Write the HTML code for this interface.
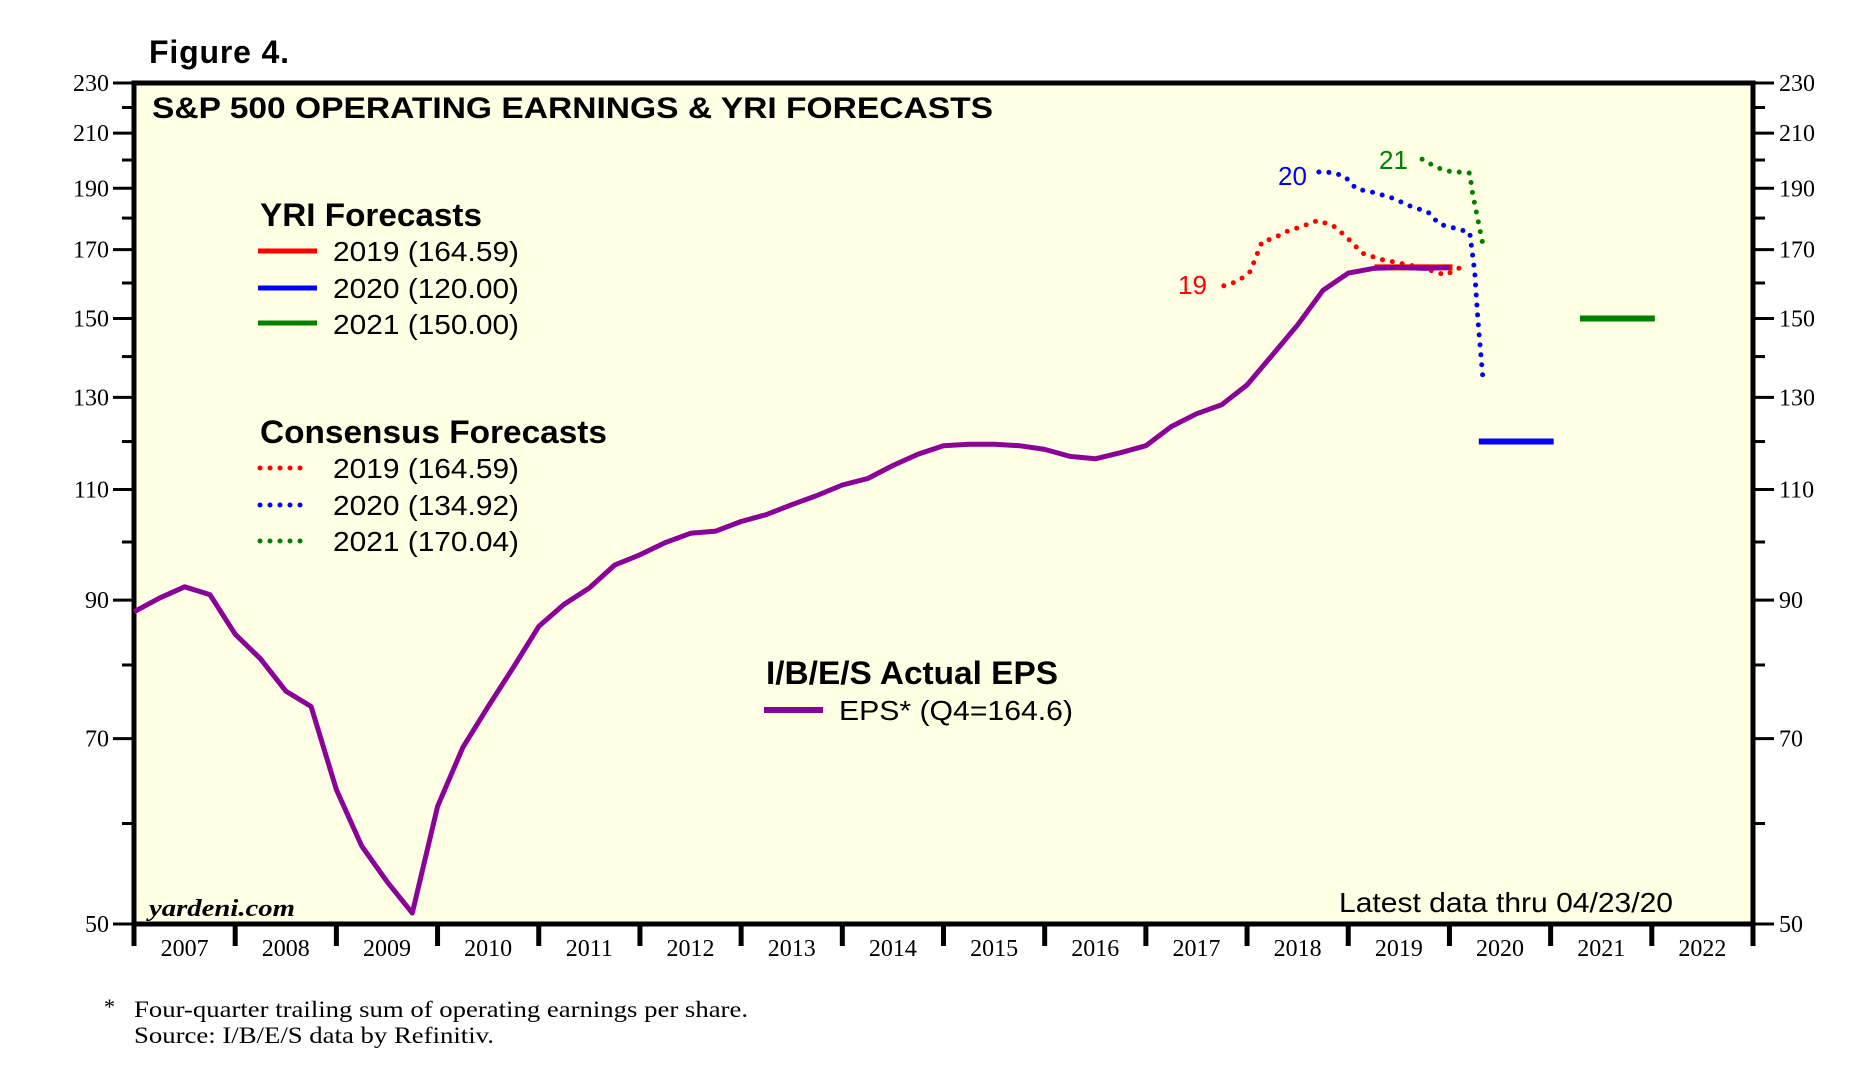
<!DOCTYPE html>
<html><head><meta charset="utf-8"><style>
html,body{margin:0;padding:0;background:#fff;}
svg{display:block;}
</style></head><body>
<svg id="chart" width="1854" height="1077" viewBox="0 0 1854 1077" xmlns="http://www.w3.org/2000/svg">
<text x="149" y="63" font-family="Liberation Sans, sans-serif" font-weight="bold" font-size="32" textLength="140">Figure 4.</text>
<rect x="134" y="83" width="1619" height="841" fill="#FFFFE3" stroke="#000" stroke-width="5"/>
<g id="axes"></g>
<g id="series"></g>
<text x="152" y="118" font-family="Liberation Sans, sans-serif" font-weight="bold" font-size="30" textLength="841" lengthAdjust="spacingAndGlyphs">S&amp;P 500 OPERATING EARNINGS &amp; YRI FORECASTS</text>

<g font-family="Liberation Sans, sans-serif">
<text x="260" y="226" font-weight="bold" font-size="32" textLength="222" lengthAdjust="spacingAndGlyphs">YRI Forecasts</text>
<line x1="258" y1="251" x2="317" y2="251" stroke="#ff0000" stroke-width="5"/>
<text x="333" y="261" font-size="28" textLength="186" lengthAdjust="spacingAndGlyphs">2019 (164.59)</text>
<line x1="258" y1="288" x2="317" y2="288" stroke="#0000ff" stroke-width="5"/>
<text x="333" y="298" font-size="28" textLength="186" lengthAdjust="spacingAndGlyphs">2020 (120.00)</text>
<line x1="258" y1="323" x2="317" y2="323" stroke="#008000" stroke-width="5"/>
<text x="333" y="334" font-size="28" textLength="186" lengthAdjust="spacingAndGlyphs">2021 (150.00)</text>

<text x="260" y="443" font-weight="bold" font-size="32" textLength="347" lengthAdjust="spacingAndGlyphs">Consensus Forecasts</text>
<line x1="260" y1="468" x2="305" y2="468" stroke="#ff0000" stroke-width="5" stroke-linecap="round" stroke-dasharray="0 10"/>
<text x="333" y="478" font-size="28" textLength="186" lengthAdjust="spacingAndGlyphs">2019 (164.59)</text>
<line x1="260" y1="505" x2="305" y2="505" stroke="#0000ff" stroke-width="5" stroke-linecap="round" stroke-dasharray="0 10"/>
<text x="333" y="515" font-size="28" textLength="186" lengthAdjust="spacingAndGlyphs">2020 (134.92)</text>
<line x1="260" y1="541" x2="305" y2="541" stroke="#008000" stroke-width="5" stroke-linecap="round" stroke-dasharray="0 10"/>
<text x="333" y="551" font-size="28" textLength="186" lengthAdjust="spacingAndGlyphs">2021 (170.04)</text>

<text x="766" y="684" font-weight="bold" font-size="32" textLength="292" lengthAdjust="spacingAndGlyphs">I/B/E/S Actual EPS</text>
<line x1="764" y1="710" x2="823" y2="710" stroke="#8B0099" stroke-width="6"/>
<text x="839" y="720" font-size="28" textLength="234" lengthAdjust="spacingAndGlyphs">EPS* (Q4=164.6)</text>
</g>

<text x="1178" y="294" fill="#ff0000" font-family="Liberation Sans, sans-serif" font-size="26">19</text>
<text x="1278" y="185" fill="#0000ff" font-family="Liberation Sans, sans-serif" font-size="26">20</text>
<text x="1379" y="169" fill="#008000" font-family="Liberation Sans, sans-serif" font-size="26">21</text>

<text x="149" y="916" font-family="Liberation Serif, serif" font-style="italic" font-weight="bold" font-size="24" textLength="146" lengthAdjust="spacingAndGlyphs">yardeni.com</text>
<text x="1339" y="912" font-family="Liberation Sans, sans-serif" font-size="28" textLength="334" lengthAdjust="spacingAndGlyphs">Latest data thru 04/23/20</text>

<text x="104" y="1014" font-family="Liberation Serif, serif" font-size="22">*</text>
<text x="134" y="1017" font-family="Liberation Serif, serif" font-size="23" textLength="614" lengthAdjust="spacingAndGlyphs">Four-quarter trailing sum of operating earnings per share.</text>
<text x="134" y="1043" font-family="Liberation Serif, serif" font-size="23" textLength="360" lengthAdjust="spacingAndGlyphs">Source: I/B/E/S data by Refinitiv.</text>
</svg>
<script>
const yTicksMajor = [230,210,190,170,150,130,110,90,70,50];
const yTicksMinor = [220,200,180,160,140,120,100,80,60];
const years = [2007,2008,2009,2010,2011,2012,2013,2014,2015,2016,2017,2018,2019,2020,2021,2022];
const epsStart = 2007.0;
const epsValues = [88.1,90.3,92.2,90.9,84.6,80.9,76.3,74.2,63.8,57.6,54.0,51.0,61.9,68.9,74.2,79.7,85.8,89.3,92.0,95.9,97.7,99.9,101.6,102.0,103.8,105.1,107.0,108.8,110.9,112.2,114.9,117.3,119.1,119.4,119.4,119.1,118.3,116.8,116.3,117.6,119.1,123.3,126.2,128.3,133.0,140.4,148.3,157.9,162.9,164.3,164.6,164.3,164.6];
const cons19Dates = [2017.77,2017.91,2018.03,2018.15,2018.26,2018.38,2018.56,2018.70,2018.85,2018.97,2019.14,2019.32,2019.49,2019.73,2019.96,2020.11];
const cons19Values = [159.2,160.5,163.3,172.5,173.5,175.5,177.5,179.2,177.5,174.3,168.9,167.0,166.0,164.5,162.3,164.59];
const cons20Dates = [2018.71,2018.85,2018.97,2019.08,2019.26,2019.44,2019.61,2019.79,2019.90,2020.08,2020.20,2020.25,2020.28,2020.30,2020.33];
const cons20Values = [195.7,195.5,194.0,189.8,188.5,186.6,184.0,181.9,178.0,176.5,175.4,163.3,150.0,143.7,134.92];
const cons21Dates = [2019.73,2019.85,2019.96,2020.20,2020.23,2020.29,2020.34];
const cons21Values = [200.3,197.8,196.1,195.3,188.0,178.0,170.04];
const yriStart = [2019.26,2020.29,2021.29];
const yriEnd = [2020.03,2021.03,2022.03];
const yriValues = [164.59,120.00,150.00];
const yriColors = ['#ff0000','#0000ff','#008000'];

const NS='http://www.w3.org/2000/svg';
const L=134,R=1753,T=83,B=924;
function X(t){return L+(t-2007)*(R-L)/16;}
function Y(v){return T+(B-T)*Math.log(230/v)/Math.log(230/50);}
function mk(tag,attrs,parent){const e=document.createElementNS(NS,tag);for(const k in attrs)e.setAttribute(k,attrs[k]);parent.appendChild(e);return e;}
const axes=document.getElementById('axes'), ser=document.getElementById('series');

yTicksMajor.forEach(v=>{
  const y=Y(v);
  const t1=mk('line',{x1:L-21,x2:L,y1:y,y2:y,stroke:'#000','stroke-width':3},axes);
  
  
  const t2=mk('line',{x1:R,x2:R+21,y1:y,y2:y,stroke:'#000','stroke-width':3},axes);
  
  
  const a=mk('text',{x:L-25,y:y+8,'text-anchor':'end','font-family':'Liberation Serif, serif','font-size':24},axes);
  a.textContent=v;
  
  
  const b=mk('text',{x:R+26,y:y+8,'font-family':'Liberation Serif, serif','font-size':24},axes);
  b.textContent=v;
  
  
});
yTicksMinor.forEach(v=>{
  const y=Y(v);
  const t1=mk('line',{x1:L-12,x2:L,y1:y,y2:y,stroke:'#000','stroke-width':3},axes);
  
  
  const t2=mk('line',{x1:R,x2:R+12,y1:y,y2:y,stroke:'#000','stroke-width':3},axes);
  
  
});
years.concat([2023]).forEach(yr=>{
  const x=X(yr);
  const t=mk('line',{x1:x,x2:x,y1:B,y2:B+22,stroke:'#000','stroke-width':5},axes);
  
  
});
years.forEach(yr=>{
  const lb=mk('text',{x:X(yr+0.5),y:956,'text-anchor':'middle','font-family':'Liberation Serif, serif','font-size':24},axes);
  lb.textContent=yr;
  
  
});

function pts(ts,vs){return ts.map((t,i)=>X(t).toFixed(1)+','+Y(vs[i]).toFixed(1)).join(' ');}
const c19=mk('polyline',{points:pts(cons19Dates,cons19Values),fill:'none',stroke:'#ff0000','stroke-width':5,'stroke-linecap':'round','stroke-dasharray':'0 10'},ser);


const c20=mk('polyline',{points:pts(cons20Dates,cons20Values),fill:'none',stroke:'#0000ff','stroke-width':5,'stroke-linecap':'round','stroke-dasharray':'0 10'},ser);


const c21=mk('polyline',{points:pts(cons21Dates,cons21Values),fill:'none',stroke:'#008000','stroke-width':5,'stroke-linecap':'round','stroke-dasharray':'0 10'},ser);


yriValues.forEach((v,i)=>{
  const l=mk('line',{x1:X(yriStart[i]),x2:X(yriEnd[i]),y1:Y(v),y2:Y(v),stroke:yriColors[i],'stroke-width':6},ser);
  
  
});
const epsDates=epsValues.map((v,i)=>epsStart+i*0.25);
const eps=mk('polyline',{points:pts(epsDates,epsValues),fill:'none',stroke:'#8B0099','stroke-width':5,'stroke-linejoin':'round'},ser);


</script>
</body></html>
